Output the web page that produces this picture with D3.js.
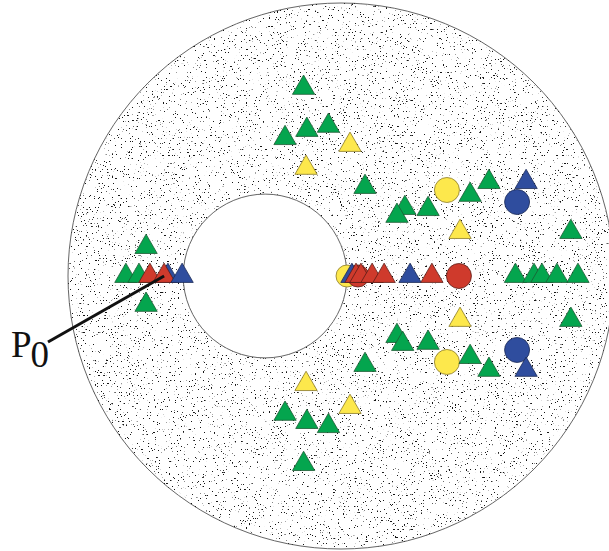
<!DOCTYPE html>
<html>
<head>
<meta charset="utf-8">
<script src="https://cdn.jsdelivr.net/npm/d3@7"></script>
<style>
  html, body { margin: 0; padding: 0; background: #fff; }
  svg { display: block; }
</style>
</head>
<body>
<div id="chart"></div>
<script>
// Disc geometry in plane units (outer radius = 100, origin at disc centre)
const outerDisc = { cx: 0, cy: 0, r: 100 };
const innerHole = { cx: -27.8, cy: 0, r: 30 };

// Triangle markers [x, y] by colour
const greenTriangles = [
  [-13.7, 68.9], [-20.5, 50.5], [-12.5, 53.5], [-4.6, 55.0],
  [8.8, 32.6], [23.4, 24.9], [20.5, 22.0], [31.9, 24.5],
  [47.3, 29.7], [54.2, 34.4], [84.2, 16.1],
  [-13.7, -68.9], [-20.5, -50.5], [-12.5, -53.5], [-4.6, -55.0],
  [8.8, -32.6], [20.5, -22.0], [22.6, -24.9], [31.9, -24.5],
  [47.3, -29.7], [54.2, -34.4], [84.2, -16.1],
  [-71.4, 10.6], [-71.4, -10.6], [-78.8, 0], [-74.0, 0],
  [63.9, 0], [70.7, 0], [73.6, 0], [79.1, 0], [86.8, 0]
];
const yellowTriangles = [
  [3.3, 48.0], [3.3, -48.0], [-12.8, 39.6], [-12.8, -39.6],
  [43.6, 16.1], [43.6, -16.1]
];
const redBlueRow = [
  // drawn in this order so later marks sit on top
  { color: "red", x: -70.0, y: 0 },
  { color: "blue", x: -63.4, y: 0 },
  { color: "red", x: -64.8, y: 0 },
  { color: "blue", x: -58.2, y: 0 },
  { color: "blue", x: 4.0, y: 0 },
  { color: "red", x: 5.5, y: 0 },
  { color: "red", x: 7.3, y: 0 },
  { color: "red", x: 11.4, y: 0 },
  { color: "red", x: 15.8, y: 0 },
  { color: "blue", x: 25.3, y: 0 },
  { color: "red", x: 33.3, y: 0 }
];
const blueTriangles = [[67.8, 34.4], [67.8, -34.4]];

// Circle markers [x, y] by colour
const yellowCircles = [[38.8, 31.5], [38.8, -31.5], [2.2, 0]];
const blueCircles = [[64.5, 27.1], [64.5, -27.1]];
const redCircles = [[6.2, 0], [43.2, 0]];

// Labelled point
const labelPoint = { name: "P", sub: "0", x: -64.8, y: 0 };

const W = 609, H = 551;
const C = { x: 341, y: 276, R: 273 };

const palette = {
  green:  { fill: "#04a54e", stroke: "#1d5a33" },
  red:    { fill: "#cf3a2c", stroke: "#5a1d17" },
  blue:   { fill: "#2f4d9e", stroke: "#1b2a55" },
  yellow: { fill: "#fde84c", stroke: "#8a7a2a" }
};

const x = d3.scaleLinear().domain([-100, 100]).range([C.x - C.R, C.x + C.R]);
const y = d3.scaleLinear().domain([-100, 100]).range([C.y + C.R, C.y - C.R]);
const k = C.R / 100;

const svg = d3.select("#chart").append("svg")
  .attr("width", W).attr("height", H)
  .attr("viewBox", `0 0 ${W} ${H}`);

const defs = svg.append("defs");

// Annulus clip (outer disc minus the hole)
const ringPath = d3.path();
ringPath.arc(x(outerDisc.cx), y(outerDisc.cy), outerDisc.r * k, 0, 2 * Math.PI);
ringPath.moveTo(x(innerHole.cx) + innerHole.r * k, y(innerHole.cy));
ringPath.arc(x(innerHole.cx), y(innerHole.cy), innerHole.r * k, 0, 2 * Math.PI);
defs.append("clipPath").attr("id", "ring")
  .append("path").attr("d", ringPath.toString()).attr("clip-rule", "evenodd");

// Speckle texture made from thresholded noise
const f = defs.append("filter").attr("id", "speckle")
  .attr("filterUnits", "userSpaceOnUse")
  .attr("x", 0).attr("y", 0).attr("width", W).attr("height", H)
  .attr("color-interpolation-filters", "sRGB");
f.append("feTurbulence")
  .attr("type", "fractalNoise").attr("baseFrequency", 0.65)
  .attr("numOctaves", 2).attr("seed", 7).attr("result", "noise");
f.append("feColorMatrix").attr("in", "noise").attr("type", "matrix")
  .attr("values", "0 0 0 0 0.08  0 0 0 0 0.08  0 0 0 0 0.08  -20 0 0 0 6.3");

// Outer disc
svg.append("circle")
  .attr("cx", x(outerDisc.cx)).attr("cy", y(outerDisc.cy)).attr("r", outerDisc.r * k)
  .attr("fill", "#fff").attr("stroke", "#666").attr("stroke-width", 1);

svg.append("g").attr("clip-path", "url(#ring)")
  .append("rect").attr("x", 0).attr("y", 0).attr("width", W).attr("height", H)
  .attr("fill", "#fff").attr("filter", "url(#speckle)");

// Hole
svg.append("circle")
  .attr("cx", x(innerHole.cx)).attr("cy", y(innerHole.cy)).attr("r", innerHole.r * k)
  .attr("fill", "#fff").attr("stroke", "#666").attr("stroke-width", 1);

const tri = d3.symbol().type(d3.symbolTriangle).size(215);
const circleR = 12.5;

const marks = svg.append("g");

function circles(data, color, r) {
  marks.selectAll(null).data(data).join("circle")
    .attr("cx", d => x(d[0])).attr("cy", d => y(d[1])).attr("r", r)
    .attr("fill", palette[color].fill).attr("stroke", palette[color].stroke)
    .attr("stroke-width", 0.8);
}
function triangles(data, color) {
  marks.selectAll(null).data(data).join("path")
    .attr("d", tri)
    .attr("transform", d => `translate(${x(d[0])},${y(d[1])})`)
    .attr("fill", palette[color].fill).attr("stroke", palette[color].stroke)
    .attr("stroke-width", 0.8).attr("stroke-linejoin", "miter");
}

circles(yellowCircles.slice(2), "yellow", 11);
circles(redCircles.slice(0, 1), "red", 11);
circles(yellowCircles.slice(0, 2), "yellow", circleR);
circles(blueCircles, "blue", circleR);
circles(redCircles.slice(1), "red", circleR);

triangles(greenTriangles, "green");
triangles(yellowTriangles, "yellow");
triangles(blueTriangles, "blue");
marks.selectAll(null).data(redBlueRow).join("path")
  .attr("d", tri)
  .attr("transform", d => `translate(${x(d.x)},${y(d.y)})`)
  .attr("fill", d => palette[d.color].fill).attr("stroke", d => palette[d.color].stroke)
  .attr("stroke-width", 0.8);

// Leader line and label
svg.append("line")
  .attr("x1", 48).attr("y1", 342)
  .attr("x2", x(labelPoint.x)).attr("y2", y(labelPoint.y))
  .attr("stroke", "#111").attr("stroke-width", 3);

const label = svg.append("text")
  .attr("x", 11).attr("y", 357)
  .attr("font-family", "'Liberation Serif', 'Times New Roman', serif")
  .attr("font-size", 37).attr("fill", "#111");
label.append("tspan").text(labelPoint.name);
label.append("tspan").attr("dy", 10).attr("dx", -1).text(labelPoint.sub);
</script>
</body>
</html>
